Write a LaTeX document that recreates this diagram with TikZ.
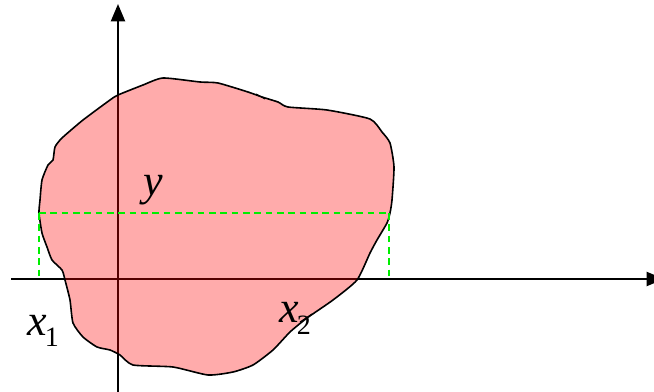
\documentclass[tikz,border=0pt]{standalone}
\usepackage{fontspec}
\setmainfont{Liberation Serif}
\usetikzlibrary{arrows.meta}
\definecolor{Blob}{HTML}{FF0000}
\definecolor{Guide}{HTML}{00EE00}
\newcommand{\subidx}[1]{\kern-1.5pt\raisebox{-9pt}{\fontsize{21}{24}\selectfont\upshape #1}}
\tikzset{
    axis/.style={line width=1.6pt, -{Triangle[width=10.5pt, length=13pt]}},
    blob/.style={line width=1.2pt, fill=Blob, fill opacity=0.33, draw=black},
    guide/.style={dashed, dash pattern=on 5pt off 3.5pt, line width=0.9pt, color=Guide},
    lbl/.style={inner sep=0pt, font=\fontsize{33}{36}\selectfont\itshape},
}

\begin{document}
\begin{tikzpicture}[x=0.75pt, y=-0.75pt]
    \useasboundingbox (0,0) rectangle (654,392);

    % assi
    \coordinate (O) at (118,279);
    \coordinate (Xs) at (11,279);
    \coordinate (Xe) at (664,279);
    \coordinate (Ys) at (118,392);
    \coordinate (Ye) at (118,4);
    \draw[axis] (Xs) -- (Xe);
    \draw[axis] (Ys) -- (Ye);

    % regione
    \draw[blob] plot[smooth cycle, tension=0.35] coordinates {
        (118,95) (143,85) (163,78) (200,82) (218,83) (248,92) (262,97)
        (278,102) (288,107) (327,110) (370,119) (382,132) (390,143)
        (394,167) (392,200) (390,213) (387,223) (377,240) (370,253)
        (357,280) (333,300) (307,318) (290,332) (273,350) (253,365)
        (233,372) (208,375) (173,367) (133,365) (120,355) (110,350)
        (97,347) (83,337) (73,323) (70,300) (65,280) (62,270) (52,260)
        (47,247) (42,233) (39,213) (40,200) (42,180) (48,165) (53,160)
        (55,147) (62,138) (83,120) (110,100)};
    % piccoli segni sul contorno
    \draw[line width=0.8pt] (256,94) -- (265,99);
    \draw[line width=0.8pt] (300,322) -- (312,314);

    % tratteggi
    \coordinate (A) at (39,213);
    \coordinate (B) at (389,213);
    \coordinate (A0) at (39,279);
    \coordinate (B0) at (389,279);
    \draw[guide] (A) -- (B);
    \draw[guide] (A) -- (A0);
    \draw[guide] (B) -- (B0);

    % etichette
    \node[lbl] (y) at (153,190) {y};
    \node[lbl, anchor=base west] (x1) at (27,335) {x\subidx{1}};
    \node[lbl, anchor=base west] (x2) at (279,323) {x\subidx{2}};
\end{tikzpicture}
\end{document}
